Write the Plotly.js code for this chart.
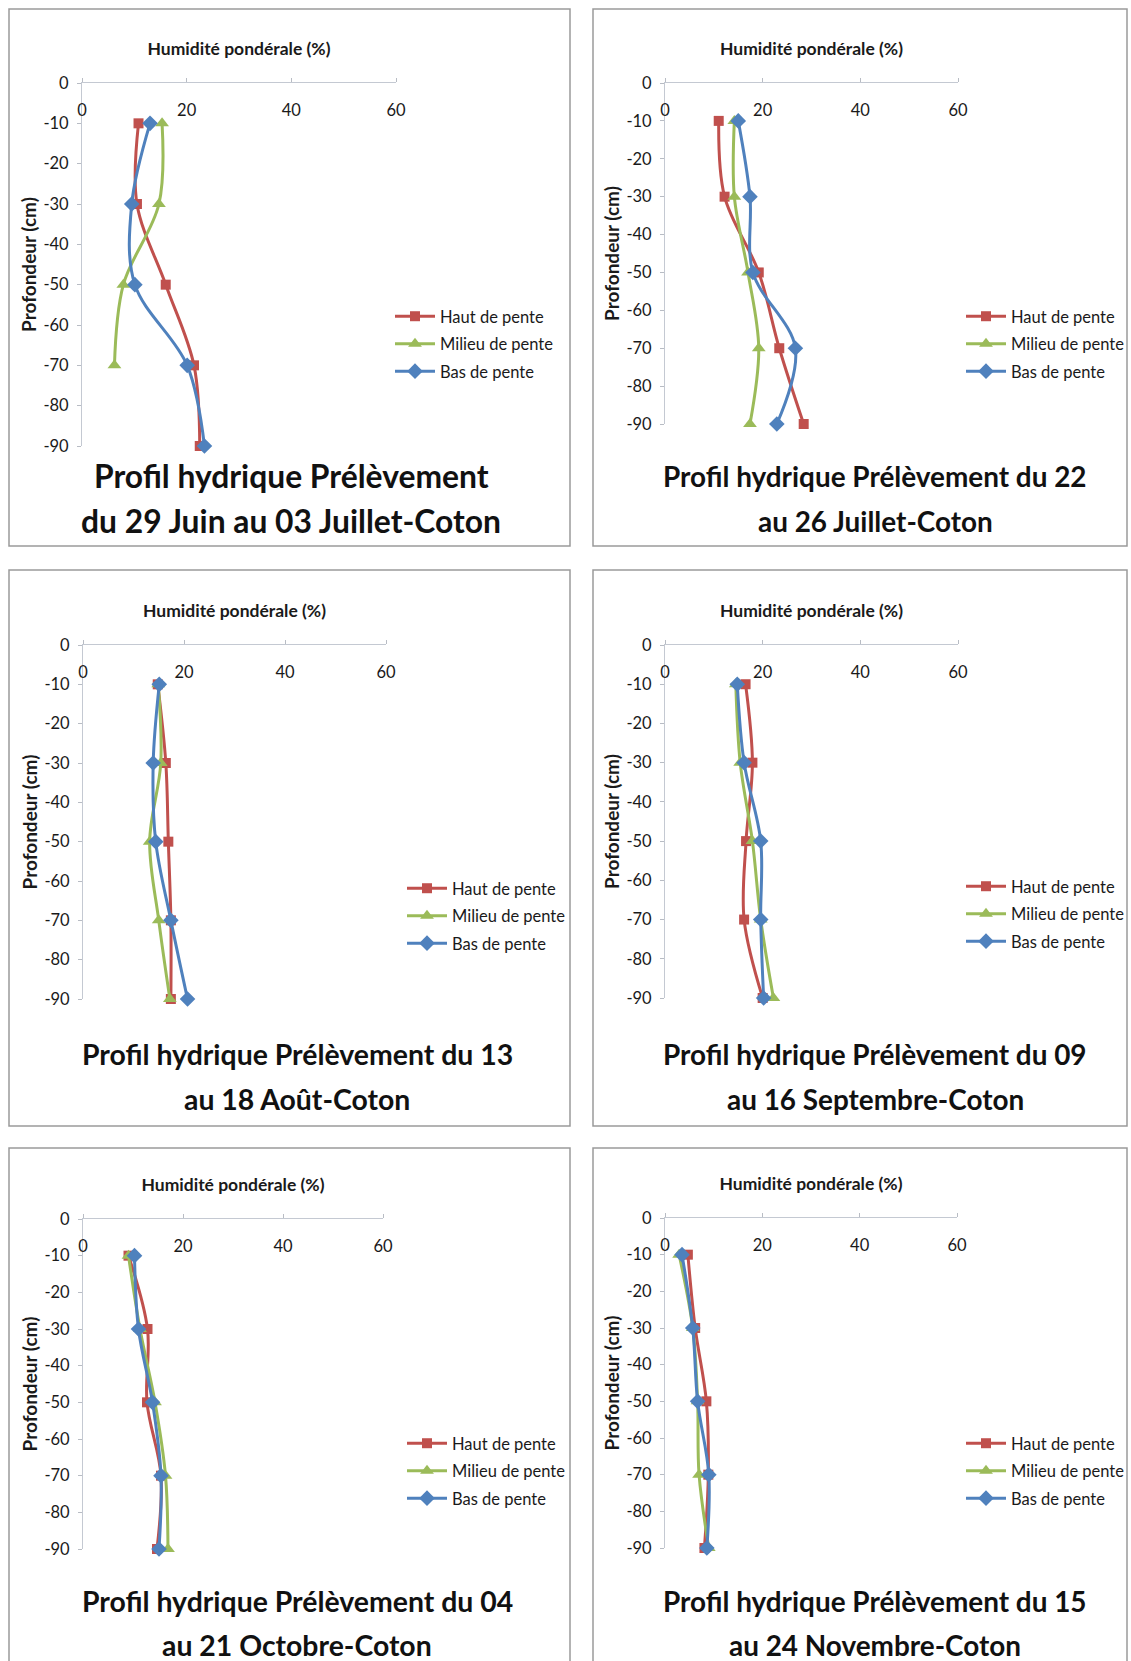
<!DOCTYPE html>
<html><head><meta charset="utf-8">
<script src="https://cdn.plot.ly/plotly-3.0.1.min.js"></script>
<style>html,body{margin:0;padding:0;background:#fff}#chart{width:1131px;height:1661px}</style>
</head><body><div id="chart"></div>
<script>
// ---------- DATA ----------
const depths = [-10, -30, -50, -70, -90];
const depthTicks = [0, -10, -20, -30, -40, -50, -60, -70, -80, -90];
const humidityTicks = [0, 20, 40, 60];
const seriesNames = ['Haut de pente', 'Milieu de pente', 'Bas de pente'];
const xAxisTitle = 'Humidité pondérale (%)';
const yAxisTitle = 'Profondeur (cm)';
const titleLine1 = [
  'Profil hydrique Prélèvement',
  'Profil hydrique Prélèvement du 22',
  'Profil hydrique Prélèvement du 13',
  'Profil hydrique Prélèvement du 09',
  'Profil hydrique Prélèvement du 04',
  'Profil hydrique Prélèvement du 15'
];
const titleLine2 = [
  'du 29 Juin au 03 Juillet-Coton',
  'au 26 Juillet-Coton',
  'au 18 Août-Coton',
  'au 16 Septembre-Coton',
  'au 21 Octobre-Coton',
  'au 24 Novembre-Coton'
];
// 29 Juin - 03 Juillet
const haut1   = [10.8, 10.5, 16.0, 21.4, 22.5];
const milieu1 = [15.3, 14.7, 7.9, 6.2, null];
const bas1    = [13.0, 9.5, 10.1, 20.1, 23.4];
// 22 - 26 Juillet
const haut2   = [11.0, 12.2, 19.2, 23.4, 28.4];
const milieu2 = [14.2, 14.2, 17.0, 19.2, 17.4];
const bas2    = [15.0, 17.4, 18.0, 26.7, 22.9];
// 13 - 18 Août
const haut3   = [14.8, 16.4, 16.9, 17.4, 17.4];
const milieu3 = [14.9, 15.4, 13.2, 15.0, 17.2];
const bas3    = [15.1, 13.9, 14.4, 17.4, 20.7];
// 09 - 16 Septembre
const haut4   = [16.5, 17.9, 16.6, 16.2, 20.0];
const milieu4 = [14.5, 15.4, 17.9, 19.6, 22.2];
const bas4    = [14.8, 16.2, 19.6, 19.6, 20.2];
// 04 - 21 Octobre
const haut5   = [9.1, 12.9, 12.8, 15.6, 14.8];
const milieu5 = [9.1, 11.4, 14.4, 16.5, 17.0];
const bas5    = [10.3, 11.1, 13.9, 15.6, 15.2];
// 15 - 24 Novembre
const haut6   = [4.7, 6.2, 8.5, 8.9, 8.1];
const milieu6 = [2.9, 5.7, 6.7, 7.0, 9.0];
const bas6    = [3.5, 5.7, 6.7, 9.0, 8.6];

// ---------- STYLE / GEOMETRY ----------
const W = 1131, H = 1661;
const seriesByPanel = [
  [haut1, milieu1, bas1], [haut2, milieu2, bas2], [haut3, milieu3, bas3],
  [haut4, milieu4, bas4], [haut5, milieu5, bas5], [haut6, milieu6, bas6]
];
const colors = ['#C0504D', '#9BBB59', '#4F81BD'];
const symbols = ['square', 'triangle-up', 'diamond'];
const msizes = [10, 12, 12];
// legAnchor: 'left' -> legX is the left edge; 'right' -> legX is the right edge of the legend box
const geom = [
  {x0: 82, x1: 396, y0: 83, y1: 446, legX: 390, legAnchor: 'left', legY: 344, tX: 291, tY1: 476, tY2: 521, tSize: 31.8, frame: [9, 9, 570, 546]},
  {x0: 665, x1: 958, y0: 83, y1: 424, legX: 1130, legAnchor: 'right', legY: 344, tX: 875, tY1: 476, tY2: 521, tSize: 27.9, frame: [593, 9, 1127, 546]},
  {x0: 83, x1: 386, y0: 645, y1: 999, legX: 402, legAnchor: 'left', legY: 916, tX: 297, tY1: 1054, tY2: 1099, tSize: 28.4, frame: [9, 570, 570, 1126]},
  {x0: 665, x1: 958, y0: 645, y1: 998, legX: 1130, legAnchor: 'right', legY: 914, tX: 875, tY1: 1054, tY2: 1099, tSize: 27.9, frame: [593, 570, 1127, 1126]},
  {x0: 83, x1: 383, y0: 1219, y1: 1549, legX: 402, legAnchor: 'left', legY: 1471, tX: 297, tY1: 1601, tY2: 1645, tSize: 28.4, frame: [9, 1148, 570, 1670]},
  {x0: 665, x1: 957, y0: 1218, y1: 1548, legX: 1130, legAnchor: 'right', legY: 1471, tX: 875, tY1: 1601, tY2: 1645, tSize: 27.9, frame: [593, 1148, 1127, 1670]}
];
const FONT = 'Lato, "Open Sans", sans-serif';
const px2x = v => v / W;
const px2y = v => 1 - v / H;

const traces = [];
const layout = {
  width: W, height: H,
  margin: {l: 0, r: 0, t: 0, b: 0, autoexpand: false},
  paper_bgcolor: '#ffffff', plot_bgcolor: '#ffffff',
  font: {family: FONT, color: '#1e1e1e'},
  showlegend: true,
  annotations: [], shapes: []
};

geom.forEach((g, p) => {
  const sfx = p === 0 ? '' : String(p + 1);
  seriesByPanel[p].forEach((vals, s) => {
    traces.push({
      type: 'scatter', mode: 'lines+markers',
      x: vals, y: depths,
      name: seriesNames[s],
      xaxis: 'x' + sfx, yaxis: 'y' + sfx,
      legend: 'legend' + sfx,
      legendgroup: 'p' + p + 's' + s,
      line: {color: colors[s], width: 3, shape: 'spline', smoothing: 1},
      marker: {symbol: symbols[s], size: msizes[s], color: colors[s]},
      cliponaxis: false,
      hoverinfo: 'x+y+name'
    });
  });
  layout['xaxis' + sfx] = {
    domain: [px2x(g.x0), px2x(g.x1)],
    anchor: 'y' + sfx, side: 'top',
    range: [0, 60], tickvals: humidityTicks, ticktext: humidityTicks.map(String),
    showline: true, linecolor: '#c4c9d2', linewidth: 1,
    ticks: 'outside', ticklen: 4, tickcolor: '#b8bcc4',
    showgrid: false, zeroline: false,
    ticklabelposition: 'inside', ticklabeloverflow: 'allow', ticklabelstandoff: 22,
    tickfont: {family: FONT, size: 16.5, color: '#1a1a1a'},
    title: {text: xAxisTitle, standoff: 40, font: {family: FONT, size: 17.5, weight: 700, color: '#1a1a1a'}},
    fixedrange: true
  };
  layout['yaxis' + sfx] = {
    domain: [px2y(g.y1), px2y(g.y0)],
    anchor: 'x' + sfx,
    range: [-90, 0], tickvals: depthTicks, ticktext: depthTicks.map(String),
    showline: true, linecolor: '#c4c9d2', linewidth: 1,
    ticks: 'outside', ticklen: 4, tickcolor: '#b8bcc4',
    showgrid: false, zeroline: false,
    ticklabelstandoff: 5,
    tickfont: {family: FONT, size: 16.5, color: '#1a1a1a'},
    title: {text: yAxisTitle, standoff: 1, font: {family: FONT, size: 19, weight: 700, color: '#1a1a1a'}},
    fixedrange: true
  };
  layout['legend' + sfx] = {
    x: px2x(g.legX), y: px2y(g.legY), xanchor: g.legAnchor, yanchor: 'middle',
    bgcolor: 'rgba(0,0,0,0)', borderwidth: 0,
    font: {family: FONT, size: 16.5, color: '#1a1a1a'},
    itemwidth: 40,
    traceorder: 'grouped', tracegroupgap: 3
  };
  layout.annotations.push({
    xref: 'paper', yref: 'paper', x: px2x(g.tX), y: px2y(g.tY1),
    xanchor: 'center', yanchor: 'middle', showarrow: false,
    text: titleLine1[p], font: {family: FONT, size: g.tSize, weight: 700, color: '#111'}
  });
  layout.annotations.push({
    xref: 'paper', yref: 'paper', x: px2x(g.tX), y: px2y(g.tY2),
    xanchor: 'center', yanchor: 'middle', showarrow: false,
    text: titleLine2[p], font: {family: FONT, size: g.tSize, weight: 700, color: '#111'}
  });
  layout.shapes.push({
    type: 'rect', xref: 'paper', yref: 'paper',
    x0: px2x(g.frame[0]), x1: px2x(g.frame[2]),
    y0: px2y(g.frame[3]), y1: px2y(g.frame[1]),
    line: {color: '#9a9a9a', width: 1.5}, fillcolor: 'rgba(0,0,0,0)', layer: 'below'
  });
});

Plotly.newPlot('chart', traces, layout, {displayModeBar: false, staticPlot: true});
</script>
</body></html>
